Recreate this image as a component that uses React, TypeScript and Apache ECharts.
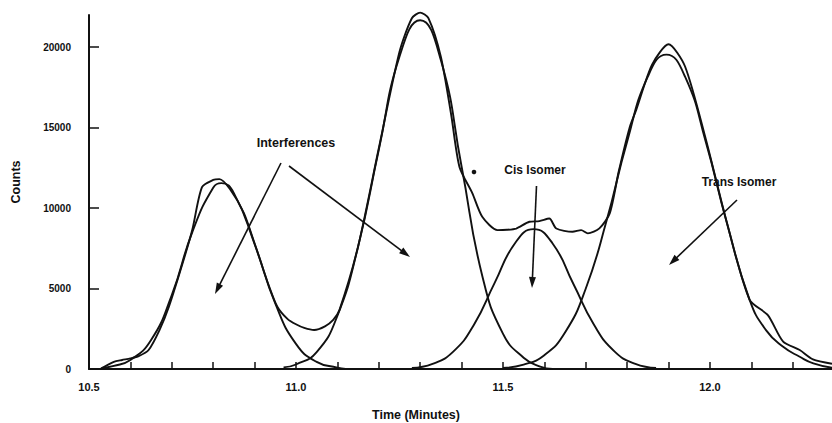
import React, { useEffect, useRef } from "react";
import * as echarts from "echarts";

// Measured chromatogram (time in minutes, counts)
const measuredTime = [10.527, 10.56, 10.58, 10.6, 10.62, 10.644, 10.67, 10.693, 10.73, 10.75, 10.773, 10.8, 10.815, 10.84, 10.874, 10.9, 10.93, 10.955, 10.98, 11.0, 11.02, 11.044, 11.07, 11.09, 11.105, 11.15, 11.2, 11.25, 11.28, 11.3, 11.32, 11.35, 11.375, 11.395, 11.426, 11.45, 11.487, 11.51, 11.532, 11.564, 11.588, 11.612, 11.629, 11.668, 11.689, 11.705, 11.733, 11.758, 11.78, 11.806, 11.822, 11.86, 11.9, 11.94, 11.99, 12.04, 12.096, 12.14, 12.177, 12.217, 12.249, 12.295];
const measuredCounts = [0, 450, 560, 660, 800, 1180, 2400, 3870, 6900, 8700, 11300, 11750, 11800, 11200, 9700, 7800, 5500, 3870, 3100, 2780, 2550, 2420, 2650, 3050, 3660, 7600, 13700, 19700, 21800, 22150, 21800, 19400, 15800, 12560, 10930, 9460, 8630, 8650, 8730, 9150, 9190, 9350, 8730, 8530, 8630, 8430, 8740, 9670, 12300, 15000, 16100, 18900, 20180, 18800, 14300, 9200, 4300, 3350, 1700, 1180, 600, 330];

// Fitted peak 1 (interference)
const fit1Time = [10.53, 10.56, 10.6, 10.65, 10.7, 10.75, 10.8, 10.82, 10.85, 10.9, 10.95, 11.0, 11.05, 11.1, 11.12];
const fit1Counts = [60, 190, 560, 1800, 4600, 8540, 11270, 11550, 10930, 7780, 4070, 1560, 440, 90, 0];

// Fitted peak 2 (interference)
const fit2Time = [10.97, 11.0, 11.05, 11.1, 11.15, 11.2, 11.25, 11.3, 11.35, 11.4, 11.45, 11.5, 11.55, 11.59, 11.62];
const fit2Counts = [100, 280, 1050, 3300, 7600, 13600, 19400, 21670, 19200, 12600, 5800, 2200, 700, 150, 0];

// Fitted peak 3 (cis isomer)
const fit3Time = [11.28, 11.33, 11.38, 11.43, 11.48, 11.53, 11.574, 11.62, 11.67, 11.72, 11.77, 11.82, 11.87];
const fit3Counts = [70, 320, 1080, 2750, 5350, 7850, 8690, 7800, 5300, 2750, 1080, 320, 70];

// Fitted peak 4 (trans isomer)
const fit4Time = [11.5, 11.55, 11.6, 11.65, 11.7, 11.75, 11.8, 11.85, 11.895, 11.94, 11.99, 12.04, 12.096, 12.136, 12.177, 12.217, 12.25, 12.295];
const fit4Counts = [72, 270, 860, 2265, 4990, 9180, 14130, 18170, 19540, 18170, 14130, 9180, 4300, 2400, 1380, 760, 350, 80];

const xTickValues = [10.6, 10.7, 10.8, 10.9, 11.0, 11.1, 11.2, 11.3, 11.4, 11.5, 11.6, 11.7, 11.8, 11.9, 12.0, 12.1, 12.2];
const xLabelValues = [10.5, 11.0, 11.5, 12.0];
const yTickValues = [0, 5000, 10000, 15000, 20000];

const FONT = "'Liberation Sans', Arial, Helvetica, sans-serif";
const INK = "#111";

function pairs(xs: number[], ys: number[]) {
  return xs.map((x, i) => [x, ys[i]]);
}

function arrow(x1: number, y1: number, x2: number, y2: number) {
  const dx = x2 - x1;
  const dy = y2 - y1;
  const len = Math.sqrt(dx * dx + dy * dy);
  const ux = dx / len;
  const uy = dy / len;
  const hl = 11;
  const hw = 3.5;
  const bx = x2 - ux * hl;
  const by = y2 - uy * hl;
  return [
    {
      type: "line",
      shape: { x1, y1, x2: x2 - ux * 4, y2: y2 - uy * 4 },
      style: { stroke: INK, lineWidth: 1.6 },
    },
    {
      type: "polygon",
      shape: {
        points: [
          [x2, y2],
          [bx - uy * hw, by + ux * hw],
          [bx + uy * hw, by - ux * hw],
        ],
      },
      style: { fill: INK },
    },
  ];
}

function textEl(x: number, y: number, text: string, size = 12.5, rotation = 0) {
  return {
    type: "text",
    x,
    y,
    rotation,
    style: {
      text,
      fill: INK,
      font: `bold ${size}px ${FONT}`,
      align: "center",
      verticalAlign: "middle",
    },
  };
}

export default function App() {
  const ref = useRef<HTMLDivElement>(null);

  useEffect(() => {
    if (!ref.current) return;
    const chart = echarts.init(ref.current, null, { renderer: "svg" });
    const lineStyle = { color: INK, width: 1.9 };
    const mkSeries = (name: string, xs: number[], ys: number[], smooth: number) => ({
      name,
      type: "line",
      data: pairs(xs, ys),
      showSymbol: false,
      smooth,
      clip: false,
      lineStyle,
      itemStyle: { color: INK },
      z: 3,
    });
    chart.setOption({
      animation: false,
      backgroundColor: "#fff",
      grid: { left: 89, right: 0, top: 15, bottom: 54 },
      xAxis: {
        type: "value",
        min: 10.5,
        max: 12.295,
        axisLine: { show: true, lineStyle: { color: INK, width: 2 } },
        axisTick: {
          show: true,
          inside: true,
          length: 7,
          customValues: xTickValues,
          lineStyle: { color: INK, width: 1.5 },
        },
        axisLabel: {
          customValues: xLabelValues,
          formatter: (v: number) => v.toFixed(1),
          margin: 12,
          color: INK,
          fontSize: 11,
          fontWeight: "bold",
          fontFamily: FONT,
        },
        splitLine: { show: false },
      },
      yAxis: {
        type: "value",
        min: 0,
        max: 22000,
        axisLine: { show: true, lineStyle: { color: INK, width: 2 } },
        axisTick: {
          show: true,
          inside: true,
          length: 10,
          customValues: yTickValues,
          lineStyle: { color: INK, width: 1.5 },
        },
        axisLabel: {
          customValues: yTickValues,
          formatter: (v: number) => String(v),
          margin: 18,
          color: INK,
          fontSize: 10,
          fontWeight: "bold",
          fontFamily: FONT,
        },
        splitLine: { show: false },
      },
      series: [
        mkSeries("Measured", measuredTime, measuredCounts, 0.25),
        mkSeries("Interference 1", fit1Time, fit1Counts, 0.5),
        mkSeries("Interference 2", fit2Time, fit2Counts, 0.5),
        mkSeries("Cis Isomer", fit3Time, fit3Counts, 0.5),
        mkSeries("Trans Isomer", fit4Time, fit4Counts, 0.5),
      ],
      graphic: [
        textEl(16, 182, "Counts", 12.5, Math.PI / 2),
        textEl(416, 415, "Time (Minutes)", 12.5),
        textEl(296, 143, "Interferences", 12.5),
        textEl(535, 170, "Cis Isomer", 12),
        textEl(739, 182, "Trans Isomer", 12),
        ...arrow(281, 163, 215, 294),
        ...arrow(289, 166, 410, 257),
        ...arrow(536.5, 186, 532, 288),
        ...arrow(737, 200, 669, 265),
        { type: "circle", shape: { cx: 474, cy: 172, r: 2.3 }, style: { fill: INK } },
      ],
    });
    return () => chart.dispose();
  }, []);

  return (
    <div
      ref={ref}
      style={{ position: "absolute", left: 0, top: 0, width: 832, height: 423 }}
    />
  );
}
